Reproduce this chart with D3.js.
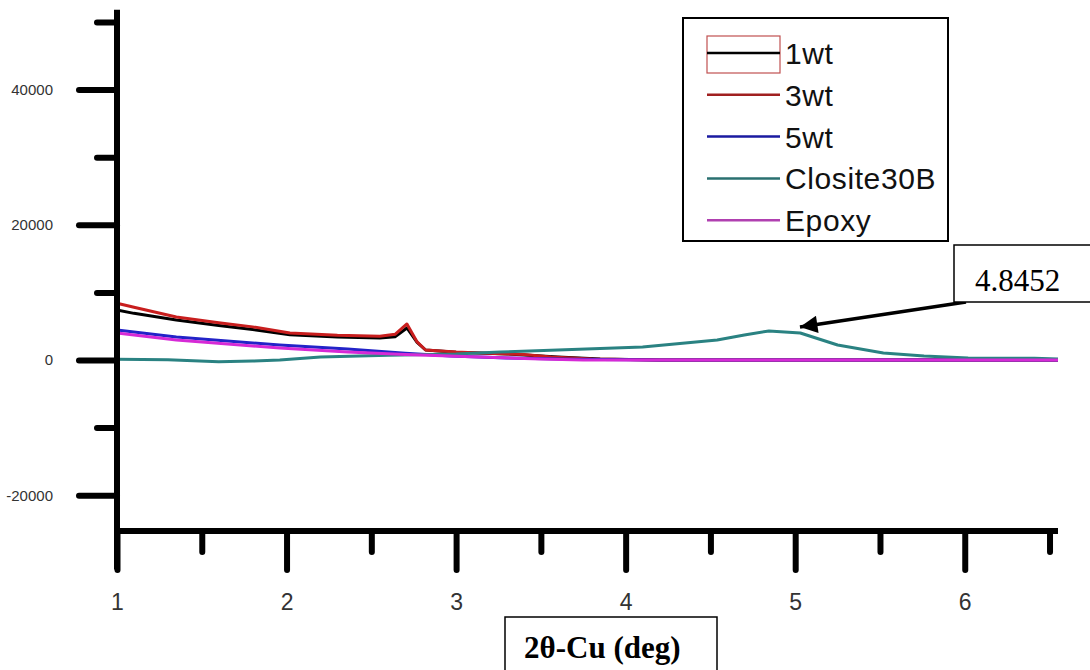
<!DOCTYPE html>
<html>
<head>
<meta charset="utf-8">
<script src="https://cdn.jsdelivr.net/npm/d3@7"></script>
<style>
  html, body { margin: 0; padding: 0; background: #fff; }
  svg { display: block; }
  .tick text { font-family: "Liberation Sans", Arial, sans-serif; fill: #333; }
</style>
</head>
<body>
<svg id="chart" width="1090" height="670"></svg>
<script>
// XRD scans: 2θ (deg) vs intensity
const oneWtX  = [1.00, 1.10, 1.35, 1.60, 1.80, 2.02, 2.30, 2.55, 2.64, 2.71, 2.77, 2.82, 3.00, 3.30, 3.60, 3.85, 4.20, 6.55];
const oneWtY  = [7400, 6900, 5920, 5100, 4500, 3750, 3400, 3260, 3450, 4740, 2600, 1480, 1150, 900, 450, 150, 0, 0];

const threeWtX = [1.00, 1.10, 1.35, 1.60, 1.80, 2.02, 2.30, 2.55, 2.64, 2.71, 2.77, 2.82, 3.00, 3.14, 3.40, 3.56, 3.80, 4.20, 6.55];
const threeWtY = [8400, 7800, 6370, 5500, 4900, 4000, 3650, 3500, 3800, 5330, 2670, 1480, 1180, 1040, 800, 450, 150, 0, 0];

const fiveWtX = [1.00, 1.35, 1.96, 2.36, 2.70, 2.97, 3.30, 3.70, 4.20, 6.55];
const fiveWtY = [4440, 3400, 2220, 1630, 1000, 600, 300, 100, 0, 0];

const closX = [1.00, 1.30, 1.60, 1.80, 1.96, 2.20, 2.60, 3.00, 3.26, 3.60, 4.10, 4.54, 4.70, 4.8452, 5.03, 5.25, 5.52, 5.76, 6.02, 6.41, 6.55];
const closY = [100, 50, -250, -150, 0, 450, 700, 900, 1185, 1480, 1930, 2960, 3700, 4300, 4000, 2220, 1040, 600, 300, 250, 150];

const epoxyX = [1.00, 1.35, 1.96, 2.36, 2.70, 3.14, 3.50, 3.75, 6.55];
const epoxyY = [4000, 2960, 1780, 1185, 800, 450, 150, 0, 0];

const seriesNames  = ["1wt", "3wt", "5wt", "Closite30B", "Epoxy"];
const seriesColors = ["#000000", "#c81e1e", "#2323c8", "#2a8282", "#d62ad6"];
const legendColors = ["#000000", "#a02020", "#1a1aa0", "#2a7070", "#b040b0"];

const xMajorTicks = [1, 2, 3, 4, 5, 6];
const xMinorTicks = [1.5, 2.5, 3.5, 4.5, 5.5, 6.5];
const yMajorTicks = [-20000, 0, 20000, 40000];
const yMinorTicks = [-10000, 10000, 30000, 50000];

const peakLabel = "4.8452";
const peakX = 4.8452;
const xTitle = "2θ-Cu (deg)";

const xDomain = [1, 6.55];
const yDomain = [-31000, 51800];
const xAxisAt = -25300;

// ---- layout ----
const svg = d3.select("#chart");
const x = d3.scaleLinear().domain(xDomain).range([117, 1058]);
const k = 67.6 / 10000;
const y = d3.scaleLinear().domain(yDomain).range([360 - yDomain[0] * k, 360 - yDomain[1] * k]);

const axisY0 = y(xAxisAt);

// ---- curves ----
const line = d3.line().x(d => x(d[0])).y(d => y(d[1]));
const seriesData = [
  d3.zip(oneWtX, oneWtY),
  d3.zip(threeWtX, threeWtY),
  d3.zip(fiveWtX, fiveWtY),
  d3.zip(closX, closY),
  d3.zip(epoxyX, epoxyY)
];
svg.append("g").selectAll("path")
  .data(seriesData)
  .join("path")
  .attr("d", d => line(d))
  .attr("fill", "none")
  .attr("stroke", (d, i) => seriesColors[i])
  .attr("stroke-width", 3)
  .attr("stroke-linejoin", "round");

// ---- axes ----
const axisStyle = g => {
  g.select(".domain").remove();
  g.selectAll(".tick line").attr("stroke", "#000").attr("stroke-width", 6).attr("stroke-linecap", "round");
};

// y axis
svg.append("line")
  .attr("x1", x(xDomain[0])).attr("x2", x(xDomain[0]))
  .attr("y1", y(yDomain[1])).attr("y2", y(yDomain[0]))
  .attr("stroke", "#000").attr("stroke-width", 6);

svg.append("g")
  .attr("transform", `translate(${x(xDomain[0])},0)`)
  .call(d3.axisLeft(y).tickValues(yMajorTicks).tickSize(38).tickPadding(26).tickFormat(d => String(d)))
  .call(axisStyle)
  .call(g => g.selectAll("text").attr("font-size", 15));

svg.append("g")
  .attr("transform", `translate(${x(xDomain[0])},0)`)
  .call(d3.axisLeft(y).tickValues(yMinorTicks).tickSize(20).tickFormat(""))
  .call(axisStyle);

// x axis
svg.append("line")
  .attr("x1", x(xDomain[0])).attr("x2", x(xDomain[1]))
  .attr("y1", axisY0).attr("y2", axisY0)
  .attr("stroke", "#000").attr("stroke-width", 6);

svg.append("g")
  .attr("transform", `translate(0,${axisY0})`)
  .call(d3.axisBottom(x).tickValues(xMajorTicks).tickSize(39).tickPadding(24).tickFormat(d => String(d)))
  .call(axisStyle)
  .call(g => g.selectAll("text").attr("font-size", 23));

svg.append("g")
  .attr("transform", `translate(0,${axisY0})`)
  .call(d3.axisBottom(x).tickValues(xMinorTicks).tickSize(21).tickFormat(""))
  .call(axisStyle);

// ---- legend ----
const legend = svg.append("g");
legend.append("rect")
  .attr("x", 683).attr("y", 18).attr("width", 265).attr("height", 223)
  .attr("fill", "#fff").attr("stroke", "#000").attr("stroke-width", 2);

const rowY = i => 53 + i * 41.8;
legend.append("rect")
  .attr("x", 707).attr("y", 36).attr("width", 73).attr("height", 37)
  .attr("fill", "none").attr("stroke", "#c05050").attr("stroke-width", 1.2);

const rows = legend.selectAll("g.row")
  .data(seriesNames)
  .join("g")
  .attr("class", "row")
  .attr("transform", (d, i) => `translate(0,${rowY(i)})`);
rows.append("line")
  .attr("x1", 707).attr("x2", 780)
  .attr("stroke", (d, i) => legendColors[i])
  .attr("stroke-width", 2.5);
rows.append("text")
  .attr("x", 785).attr("y", 11)
  .attr("font-family", "Liberation Sans, Arial, sans-serif")
  .attr("font-size", 30)
  .attr("letter-spacing", 0.6)
  .attr("fill", "#111")
  .text(d => d);

// ---- peak annotation ----
const defs = svg.append("defs");
defs.append("marker")
  .attr("id", "arrowhead")
  .attr("viewBox", "0 0 10 10")
  .attr("refX", 10).attr("refY", 5)
  .attr("markerWidth", 6).attr("markerHeight", 5)
  .attr("markerUnits", "strokeWidth")
  .attr("orient", "auto")
  .append("path")
  .attr("d", "M0,0 L10,5 L0,10 Z")
  .attr("fill", "#000");

const peakIdx = closX.indexOf(peakX);
const tipX = x(peakX) + 31;
const tipY = y(closY[peakIdx]) - 4;
svg.append("line")
  .attr("x1", 966).attr("y1", 302)
  .attr("x2", tipX).attr("y2", tipY)
  .attr("stroke", "#000").attr("stroke-width", 3.5)
  .attr("marker-end", "url(#arrowhead)");

svg.append("rect")
  .attr("x", 954).attr("y", 245).attr("width", 150).attr("height", 57)
  .attr("fill", "#fff").attr("stroke", "#000").attr("stroke-width", 1.5);
svg.append("text")
  .attr("x", 975).attr("y", 291)
  .attr("font-family", "Liberation Serif, 'Times New Roman', serif")
  .attr("font-size", 31)
  .attr("fill", "#000")
  .text(peakLabel);

// ---- x title box ----
svg.append("rect")
  .attr("x", 505).attr("y", 617).attr("width", 212).attr("height", 70)
  .attr("fill", "#fff").attr("stroke", "#000").attr("stroke-width", 1.5);
svg.append("text")
  .attr("x", 524).attr("y", 658)
  .attr("font-family", "Liberation Serif, 'Times New Roman', serif")
  .attr("font-weight", "bold")
  .attr("font-size", 31)
  .attr("fill", "#000")
  .text(xTitle);
</script>
</body>
</html>
